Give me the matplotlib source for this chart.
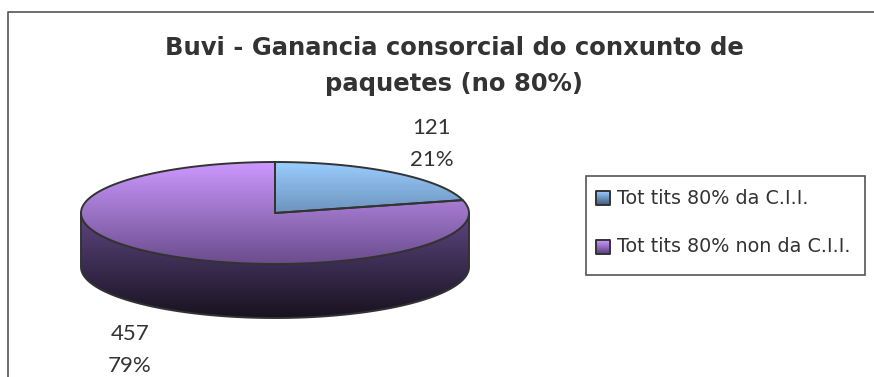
import numpy as np
import matplotlib
matplotlib.use("Agg")
import matplotlib.pyplot as plt
from matplotlib.patches import Polygon, Rectangle
from matplotlib.colors import LinearSegmentedColormap

title = "Buvi - Ganancia consorcial do conxunto de\npaquetes (no 80%)"
categories = ["Tot tits 80% da C.I.I.", "Tot tits 80% non da C.I.I."]
values = [121, 457]

top_colors = [("#9ACDFF", "#3E5A78"), ("#CC99FF", "#6A4C8C")]
side_colors = [("#4E6C8C", "#141C26"), ("#5E4682", "#18121F")]
legend_colors = [("#9ACDFF", "#3E5A78"), ("#CC99FF", "#5A3C7C")]
edge = "#333333"
FONT = ["Lato", "DejaVu Sans"]
FONT2 = ["DejaVu Sans"]

W, H = 874, 377
fig = plt.figure(figsize=(W / 100, H / 100), dpi=100)
ax = fig.add_axes([0, 0, 1, 1])
ax.set_xlim(0, W)
ax.set_ylim(H, 0)
ax.axis("off")

# chart border
ax.plot([8, 8, W + 5], [H + 5, 12, 12], color="#555555", lw=1.2, zorder=1)

cx, cy, rx, ry, depth = 275, 213, 194, 51, 54


def ell(t, dy=0.0):
    t = np.radians(t)
    return cx + rx * np.cos(t), cy - ry * np.sin(t) + dy


def grad_fill(xy, c0, c1, y0, y1, z):
    patch = Polygon(xy, closed=True, facecolor="none", edgecolor=edge, lw=1.4, zorder=z + 0.5,
                    joinstyle="round")
    ax.add_patch(patch)
    cmap = LinearSegmentedColormap.from_list("g", [c0, c1])
    g = np.linspace(0, 1, 256).reshape(-1, 1)
    xs = [p[0] for p in xy]
    im = ax.imshow(g, cmap=cmap, extent=(min(xs) - 2, max(xs) + 2, y1, y0), origin="upper",
                   aspect="auto", zorder=z, interpolation="bilinear")
    im.set_clip_path(patch)


total = sum(values)
spans = []
a = 90.0
for v in values:
    a2 = a - 360.0 * v / total
    spans.append((a2, a))
    a = a2

# sides (front half only)
for i, (t1, t2) in enumerate(spans):
    for k in range(-2, 3):
        lo, hi = 180 + 360 * k, 360 + 360 * k
        s1, s2 = max(t1, lo), min(t2, hi)
        if s2 > s1:
            ts = np.linspace(s1, s2, 200)
            topx, topy = ell(ts)
            botx, boty = ell(ts[::-1], depth)
            xy = list(zip(topx, topy)) + list(zip(botx, boty))
            grad_fill(xy, side_colors[i][0], side_colors[i][1], cy, cy + ry + depth, 2)

# top faces
for i, (t1, t2) in enumerate(spans):
    ts = np.linspace(t1, t2, 300)
    x, y = ell(ts)
    xy = [(cx, cy)] + list(zip(x, y))
    grad_fill(xy, top_colors[i][0], top_colors[i][1], cy - ry, cy + ry, 4)

# data labels
label_pos = [(432, 144), (130, 350)]
for v, (lx, ly) in zip(values, label_pos):
    ax.text(lx, ly, f"{v}\n{100 * v / total:.0f}%", ha="center", va="center", fontsize=16,
            color="#333333", linespacing=1.7, family=FONT, zorder=6)

# title
ax.text(454, 66, title, ha="center", va="center", fontsize=17.5, fontweight="bold",
        color="#333333", linespacing=1.58, family=FONT2, zorder=6)

# legend
ax.add_patch(Rectangle((586, 176), 279, 99, facecolor="white", edgecolor="#555555", lw=1.2,
                       zorder=5))
for i, lab in enumerate(categories):
    yy = 198 + i * 49
    sq = [(596, yy - 7), (610, yy - 7), (610, yy + 7), (596, yy + 7)]
    grad_fill(sq, legend_colors[i][0], legend_colors[i][1], yy - 7, yy + 7, 6)
    ax.text(617, yy, lab, ha="left", va="center", fontsize=13.8, color="#333333",
            family=FONT2, zorder=7)

fig.savefig("out.png", dpi=100)
